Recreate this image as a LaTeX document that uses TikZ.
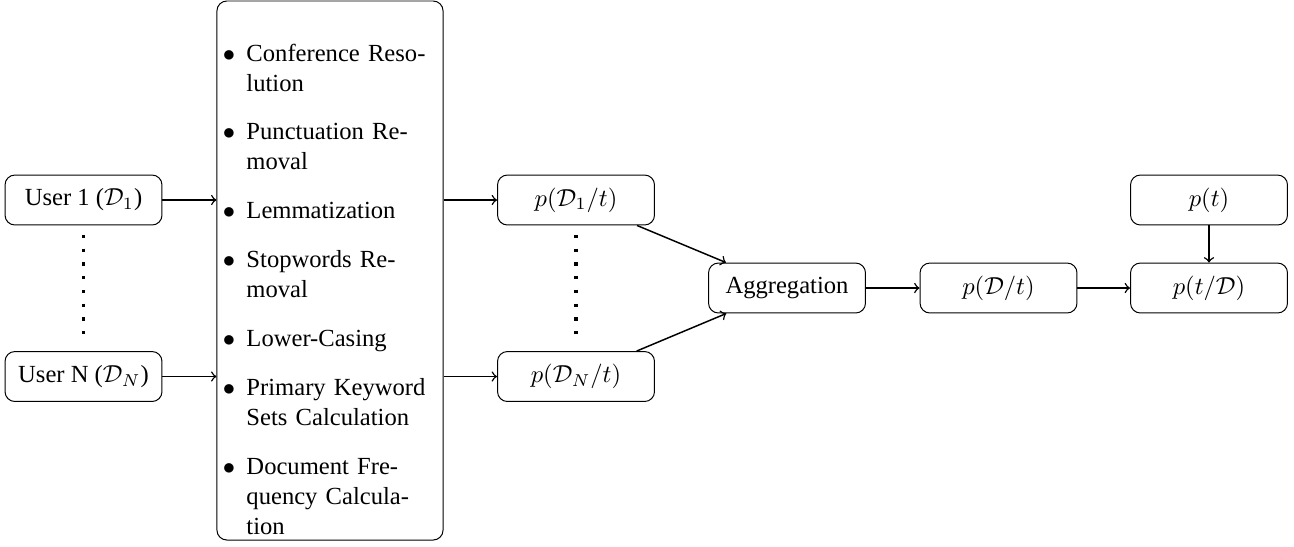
\documentclass[tikz,border=0pt]{standalone}
\usepackage{fontspec}
\setmainfont{Liberation Serif}
\begin{document}
\begin{tikzpicture}[x=0.4065pt,y=-0.4065pt,
  box/.style={draw, rounded corners=4pt, minimum width=63.8pt, minimum height=20.3pt, inner sep=2pt},
  bigbox/.style={draw, rounded corners=4pt, minimum width=91.9pt, minimum height=219.1pt, inner sep=0pt},
  conn/.style={->, semithick},
  dotline/.style={line width=1.4pt, dash pattern=on 1.3pt off 4.3pt, shorten <=3.8pt, shorten >=3.4pt}]
\useasboundingbox (0,0) rectangle (1294,546);
% input users
\node[box] (u1) at (83.5,200) {User 1 ($\mathcal{D}_1$)};
\node[box] (uN) at (83.5,376.5) {User N ($\mathcal{D}_N$)};
% preprocessing
\node[bigbox] (proc) at (330,270.5) {};
\node[anchor=north west, inner sep=0pt, text width=88pt, align=left] (steps) at (226,30.5) {%
\fontsize{10pt}{12.2pt}\selectfont
\begin{list}{$\bullet$}{\setlength\leftmargin{8.13pt}\setlength\labelsep{4.6pt}%
\setlength\itemsep{7.7pt}\setlength\parsep{0pt}\setlength\topsep{0pt}\setlength\partopsep{0pt}}%
\item Conference Reso-\\lution
\item Punctuation Re-\\moval
\item Lemmatization
\item Stopwords Re-\\moval
\item Lower-Casing
\item Primary Keyword\\Sets Calculation
\item Document Fre-\\quency Calcula-\\tion
\end{list}};
% likelihoods
\node[box] (pd1) at (576,200) {$p(\mathcal{D}_1/t)$};
\node[box] (pdN) at (576,376.5) {$p(\mathcal{D}_N/t)$};
\node[box] (agg) at (787,288) {Aggregation};
\node[box] (pD) at (998.5,288) {$p(\mathcal{D}/t)$};
\node[box] (ptD) at (1209,288) {$p(t/\mathcal{D})$};
\node[box] (pt) at (1209,200) {$p(t)$};
% connectors
\draw[conn] (u1.east) -- (proc.west |- u1);
\draw[conn] (uN.east) -- (proc.west |- uN);
\draw[conn] (proc.east |- pd1) -- (pd1.west);
\draw[conn] (proc.east |- pdN) -- (pdN.west);
\draw[conn] (pd1) -- (agg);
\draw[conn] (pdN) -- (agg);
\draw[conn] (agg) -- (pD);
\draw[conn] (pD) -- (ptD);
\draw[conn] (pt) -- (ptD);
\draw[dotline] (u1) -- (uN);
\draw[dotline] (pd1) -- (pdN);
\end{tikzpicture}
\end{document}
